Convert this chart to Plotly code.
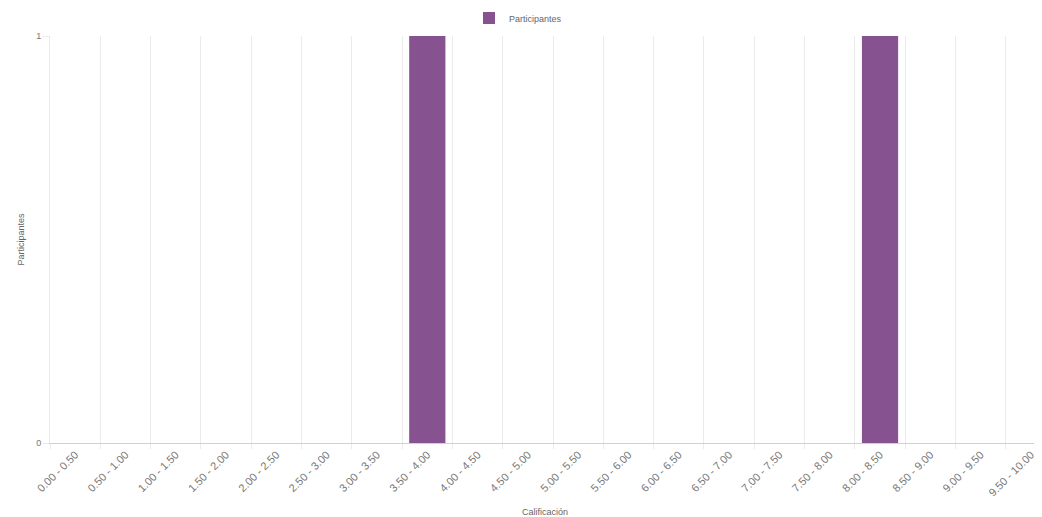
import plotly.graph_objects as go

categories = ["0.00 - 0.50", "0.50 - 1.00", "1.00 - 1.50", "1.50 - 2.00", "2.00 - 2.50",
              "2.50 - 3.00", "3.00 - 3.50", "3.50 - 4.00", "4.00 - 4.50", "4.50 - 5.00",
              "5.00 - 5.50", "5.50 - 6.00", "6.00 - 6.50", "6.50 - 7.00", "7.00 - 7.50",
              "7.50 - 8.00", "8.00 - 8.50", "8.50 - 9.00", "9.00 - 9.50", "9.50 - 10.00"]
participantes = [0, 0, 0, 0, 0, 0, 0, 1, 0, 0, 0, 0, 0, 0, 0, 0, 1, 0, 0, 0]
y_ticks = [0, 1]

W, H = 1034, 509  # page body has an 8px margin

fig = go.Figure()
fig.add_trace(go.Bar(
    x=categories, y=participantes, name="Participantes",
    marker=dict(color="#86528f", line=dict(width=0)),
    width=0.72,
))

fig.update_layout(
    width=W, height=H,
    margin=dict(l=42, r=2, t=28, b=74),
    plot_bgcolor="white", paper_bgcolor="white",
    font=dict(family="Liberation Sans, Arial, sans-serif", size=9, color="#666"),
    showlegend=True,
    legend=dict(orientation="h", x=510 / W, xanchor="center", xref="container",
                y=1 - 10 / H, yanchor="middle", yref="container",
                font=dict(size=9, color="#666")),
)
fig.update_xaxes(
    type="category", tickson="boundaries", showgrid=True, gridcolor="#ebebeb",
    range=[-0.5, 19.18],
    tickangle=-45, tickfont=dict(size=11, color="#777"), automargin=False,
    showline=True, linecolor="#d0d0d0", ticks="outside", ticklen=5, tickcolor="#ebebeb",
    title=dict(text="Calificación", font=dict(size=9, color="#666"), standoff=12),
)
fig.update_yaxes(
    range=[0, 1], tickvals=y_ticks, showgrid=True, gridcolor="#ebebeb", automargin=False,
    zeroline=False, tickfont=dict(size=9, color="#777"), ticks="outside", ticklen=6,
    tickcolor="#ebebeb", showline=True, linecolor="#ebebeb",
    title=dict(text="Participantes", font=dict(size=9, color="#666"), standoff=10),
)

fig.write_html("out.html")
